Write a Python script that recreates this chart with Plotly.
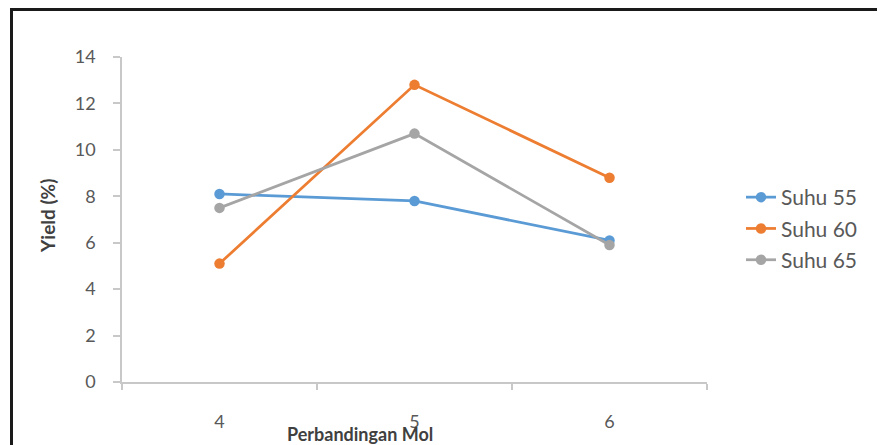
import plotly.graph_objects as go

categories = ["4", "5", "6"]
suhu55 = [8.1, 7.8, 6.1]
suhu60 = [5.1, 12.8, 8.8]
suhu65 = [7.5, 10.7, 5.9]
series_names = ["Suhu 55", "Suhu 60", "Suhu 65"]
colors = ["#5B9BD5", "#ED7D31", "#A5A5A5"]

OFF = 8  # page body margin offset
W, H = 885, 445
L, T = 122 - OFF, 57 - OFF
PW, PH = 585, 325
R, B = W - L - PW, H - T - PH

def px_x(p):
    return (p - OFF - L) / PW

def px_y(p):
    return (T + PH - (p - OFF)) / PH

fig = go.Figure()
for i, (name, vals) in enumerate(zip(series_names, [suhu55, suhu60, suhu65])):
    fig.add_trace(go.Scatter(
        x=categories, y=vals, name=name, mode="lines+markers",
        line=dict(color=colors[i], width=2.75),
        marker=dict(color=colors[i], size=10.5),
        legendgroup=name,
    ))

font = "Lato, 'Open Sans', sans-serif"
axis_col = "#C8C8C8"
tick_col = "#595959"
fig.update_layout(
    width=W, height=H,
    margin=dict(l=L, r=R, t=T, b=B),
    paper_bgcolor="white", plot_bgcolor="white",
    font=dict(family=font, size=18, color=tick_col),
    showlegend=True,
    legend=dict(x=px_x(741), xanchor="left", y=px_y(177), yanchor="top",
                font=dict(size=21, color=tick_col), tracegroupgap=1,
                bgcolor="rgba(0,0,0,0)"),
    xaxis=dict(type="category", range=[-0.5, 2.5], tickson="boundaries",
               ticks="outside", ticklen=6, tickcolor=axis_col, tickwidth=1.5,
               showline=True, linecolor=axis_col, linewidth=1.5,
               showgrid=False, zeroline=False, ticklabelstandoff=23,
               tickfont=dict(size=18, color=tick_col)),
    yaxis=dict(range=[0, 14], dtick=2, ticks="outside", ticklen=7,
               tickcolor=axis_col, tickwidth=1.5, showline=True,
               linecolor=axis_col, linewidth=1.5, showgrid=False,
               zeroline=False, ticklabelstandoff=14,
               tickfont=dict(size=18, color=tick_col)),
    annotations=[
        dict(text="<b>Yield (%)</b>", x=px_x(47), y=px_y(216), xref="paper",
             yref="paper", showarrow=False, textangle=-90,
             xanchor="center", yanchor="middle",
             font=dict(size=19, color="#404040")),
        dict(text="<b>Perbandingan Mol</b>", x=px_x(360), y=px_y(434),
             xref="paper", yref="paper", showarrow=False,
             xanchor="center", yanchor="middle",
             font=dict(size=18, color="#404040")),
    ],
    shapes=[
        dict(type="rect", xref="paper", yref="paper",
             x0=px_x(11.5), x1=px_x(905), y0=px_y(500), y1=px_y(9.5),
             line=dict(color="#1A1A1A", width=3), fillcolor="rgba(0,0,0,0)",
             layer="above"),
    ],
)

fig.write_html("out.html")
